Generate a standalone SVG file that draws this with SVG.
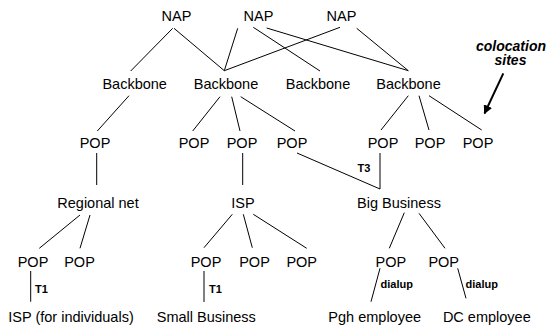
<svg xmlns="http://www.w3.org/2000/svg" width="549" height="327" viewBox="0 0 549 327">
<style>
.n{font-family:"Liberation Sans",Arial,sans-serif;font-size:14.5px;fill:#000;text-anchor:middle}
.s{font-family:"Liberation Sans",Arial,sans-serif;font-size:11px;font-weight:bold;fill:#000}
.c{font-family:"Liberation Sans",Arial,sans-serif;font-size:14px;font-weight:bold;font-style:italic;fill:#000;text-anchor:middle}
.e line{stroke:#000;stroke-width:1;fill:none}
</style>
<defs>
<marker id="ah" viewBox="0 0 10 10" refX="9" refY="5" markerWidth="4.5" markerHeight="4.5" orient="auto" markerUnits="strokeWidth">
<path d="M0,0 L10,5 L0,10 z" fill="#000"/>
</marker>
</defs>
<rect width="549" height="327" fill="#fff"/>
<g id="connectors" class="e">
<line x1="172.7" y1="28.3" x2="130.7" y2="71"/>
<line x1="174" y1="28.3" x2="224.3" y2="70.7"/>
<line x1="237.7" y1="28.3" x2="224.3" y2="70.7"/>
<line x1="340" y1="27.3" x2="224.3" y2="70.7"/>
<line x1="253.3" y1="27.3" x2="320" y2="71"/>
<line x1="266.7" y1="28" x2="408.3" y2="70.7"/>
<line x1="356.7" y1="28.3" x2="408.3" y2="70.7"/>
<line x1="129" y1="95.7" x2="97.3" y2="131"/>
<line x1="220" y1="96.7" x2="192.7" y2="131"/>
<line x1="231.7" y1="96.7" x2="240" y2="131"/>
<line x1="240.7" y1="96.7" x2="295" y2="131"/>
<line x1="408.3" y1="95.7" x2="381" y2="130"/>
<line x1="419" y1="95.7" x2="429" y2="130"/>
<line x1="429" y1="95.7" x2="481.7" y2="130"/>
<line x1="96.7" y1="153" x2="96.7" y2="185"/>
<line x1="242.7" y1="153" x2="242.7" y2="185"/>
<line x1="297" y1="153" x2="380" y2="189"/>
<line x1="380" y1="153" x2="380" y2="189"/>
<line x1="80" y1="215" x2="39.3" y2="248.3"/>
<line x1="90" y1="215" x2="80" y2="248.3"/>
<line x1="232.3" y1="214.3" x2="204" y2="247.7"/>
<line x1="243.3" y1="214.3" x2="252.3" y2="247.7"/>
<line x1="253.3" y1="214.3" x2="306.7" y2="248.3"/>
<line x1="404.3" y1="212.7" x2="389.3" y2="248.3"/>
<line x1="419" y1="213.3" x2="445" y2="248.3"/>
<line x1="30.7" y1="271" x2="30.7" y2="301.7"/>
<line x1="204" y1="271" x2="204" y2="302"/>
<line x1="380" y1="268.3" x2="371" y2="301.7"/>
<line x1="457.7" y1="268.3" x2="466" y2="298.3"/>
</g>
<g id="edge-labels">
<text class="s" x="35" y="293.3">T1</text>
<text class="s" x="209" y="293.3">T1</text>
<text class="s" x="357.5" y="171.7">T3</text>
<text class="s" x="380.5" y="287.5">dialup</text>
<text class="s" x="465.5" y="287.5">dialup</text>
</g>
<g id="nap1"><text class="n" x="176.5" y="21">NAP</text></g>
<g id="nap2"><text class="n" x="258.5" y="21">NAP</text></g>
<g id="nap3"><text class="n" x="341.5" y="21">NAP</text></g>
<g id="backbone1"><text class="n" x="134.7" y="89">Backbone</text></g>
<g id="backbone2"><text class="n" x="226" y="89">Backbone</text></g>
<g id="backbone3"><text class="n" x="318" y="89">Backbone</text></g>
<g id="backbone4"><text class="n" x="408.5" y="89">Backbone</text></g>
<g id="pop-a"><text class="n" x="95" y="148">POP</text></g>
<g id="pop-b"><text class="n" x="194" y="148">POP</text></g>
<g id="pop-c"><text class="n" x="242" y="148">POP</text></g>
<g id="pop-d"><text class="n" x="292" y="148">POP</text></g>
<g id="pop-e"><text class="n" x="383" y="148">POP</text></g>
<g id="pop-f"><text class="n" x="430" y="148">POP</text></g>
<g id="pop-g"><text class="n" x="478" y="148">POP</text></g>
<g id="regional-net"><text class="n" x="98" y="208">Regional net</text></g>
<g id="isp"><text class="n" x="243" y="208">ISP</text></g>
<g id="big-business"><text class="n" x="399" y="208">Big Business</text></g>
<g id="pop-h"><text class="n" x="33" y="266.5">POP</text></g>
<g id="pop-i"><text class="n" x="79.5" y="266.5">POP</text></g>
<g id="pop-j"><text class="n" x="206" y="266.5">POP</text></g>
<g id="pop-k"><text class="n" x="254.5" y="266.5">POP</text></g>
<g id="pop-l"><text class="n" x="301.7" y="266.5">POP</text></g>
<g id="pop-m"><text class="n" x="390.8" y="266.5">POP</text></g>
<g id="pop-n"><text class="n" x="443.7" y="266.5">POP</text></g>
<g id="isp-individuals"><text class="n" x="71" y="321.5">ISP (for individuals)</text></g>
<g id="small-business"><text class="n" x="206.3" y="321.5">Small Business</text></g>
<g id="pgh-employee"><text class="n" x="374.7" y="321.5">Pgh employee</text></g>
<g id="dc-employee"><text class="n" x="486.8" y="321.5">DC employee</text></g>
<g id="colocation-note">
<text class="c" x="511" y="50.5">colocation</text>
<text class="c" x="510.5" y="65">sites</text>
<line x1="503.3" y1="73.3" x2="484.5" y2="113.5" stroke="#000" stroke-width="2" marker-end="url(#ah)"/>
</g>
</svg>
